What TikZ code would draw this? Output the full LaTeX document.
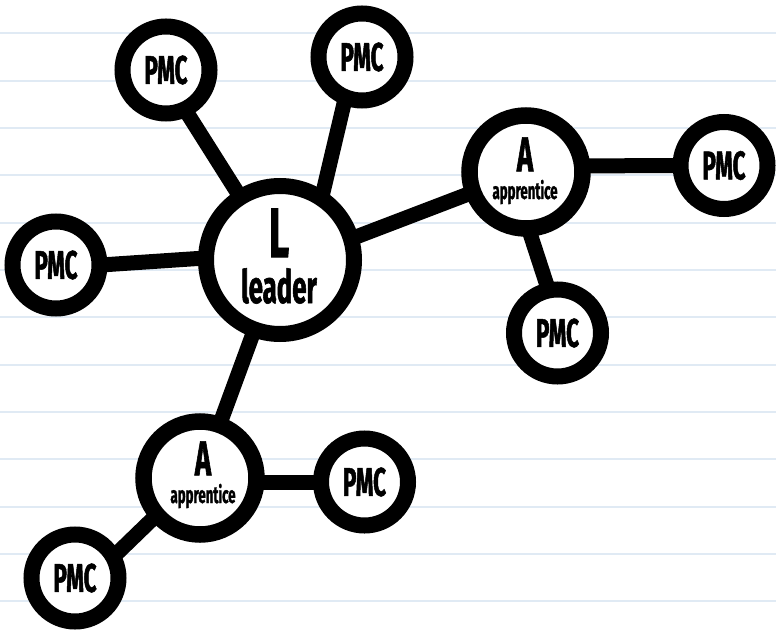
\documentclass[tikz,border=0pt]{standalone}
\usepackage{fontspec}
\newfontfamily\cf[FakeStretch=0.56,BoldFeatures={FakeBold=1.2}]{Fira Sans}
\usetikzlibrary{calc}
\pgfdeclarelayer{bg}
\pgfsetlayers{bg,main}
\definecolor{rulecol}{HTML}{E0EAF4}
\tikzset{
  ring/.style={circle,draw=black,fill=white,inner sep=0pt},
  pmc/.style={ring,minimum size=87pt,line width=16pt,font=\cf\bfseries\fontsize{40}{40}\selectfont},
  app/.style={ring,minimum size=113pt,line width=16.5pt},
  lead/.style={ring,minimum size=148pt,line width=16pt},
  conn/.style={line width=15pt,black},
  rulel/.style={line width=2pt,rulecol},
  txt/.style={anchor=base,inner sep=0pt,outer sep=0pt,font=\cf\bfseries},
}
\begin{document}
\begin{tikzpicture}[x=1pt,y=-1pt]
\useasboundingbox (0,0) rectangle (776,631);
% nodes
\node[lead] (L) at (280,260) {};
\node[app] (A1) at (526,172) {};
\node[app] (A2) at (200,478) {};
\node[pmc] (ptl) at (166,70) {PMC};
\node[pmc] (ptop) at (362,57) {PMC};
\node[pmc] (pl) at (56,265) {PMC};
\node[pmc] (pr) at (724,165.5) {PMC};
\node[pmc] (pbr) at (557.5,333) {PMC};
\node[pmc] (pa2r) at (364.5,482) {PMC};
\node[pmc] (pbl) at (75,578) {PMC};
% texts
\node[txt] (Lt) at ($(L)+(-1,43)$) {\renewcommand{\arraystretch}{0}\begin{tabular}[b]{@{}c@{}}
  \fontsize{70}{70}\selectfont L\\[11pt]
  \fontsize{46}{46}\selectfont leader\end{tabular}};
\node[txt] (A1t) at ($(A1)+(-1,27)$) {\renewcommand{\arraystretch}{0}\begin{tabular}[b]{@{}c@{}}
  \fontsize{49}{49}\selectfont A\\[8.5pt]
  \fontsize{23.6}{23.6}\selectfont apprentice\end{tabular}};
\node[txt] (A2t) at ($(A2)+(3,25)$) {\renewcommand{\arraystretch}{0}\begin{tabular}[b]{@{}c@{}}
  \fontsize{49}{49}\selectfont A\\[8.5pt]
  \fontsize{23.6}{23.6}\selectfont apprentice\end{tabular}};
\begin{pgfonlayer}{bg}
  \fill[white] (0,0) rectangle (776,631);
  \foreach \i in {0,...,12}
    \draw[rulel] (0,33.5+47.3*\i) -- (776,33.5+47.3*\i);
  \draw[conn] ([xshift=-6pt]ptl.center) -- (L.center);
  \draw[conn] ([xshift=-7pt]ptop.center) -- ([xshift=27pt]L.center);
  \draw[conn] ([yshift=-3pt]pl.center) -- ([yshift=7pt]L.center);
  \draw[conn] ([yshift=-6pt]L.center) -- (A1.center);
  \draw[conn] ([yshift=6pt]A1.center) -- (pr.center);
  \draw[conn] ([xshift=-16pt]A1.center) -- ([xshift=5pt]pbr.center);
  \draw[conn] (L.center) -- (A2.center);
  \draw[conn] ([yshift=-4pt]A2.center) -- (pa2r.center);
  \draw[conn] ([yshift=5pt]A2.center) -- ([yshift=-16pt]pbl.center);
\end{pgfonlayer}
\end{tikzpicture}
\end{document}
